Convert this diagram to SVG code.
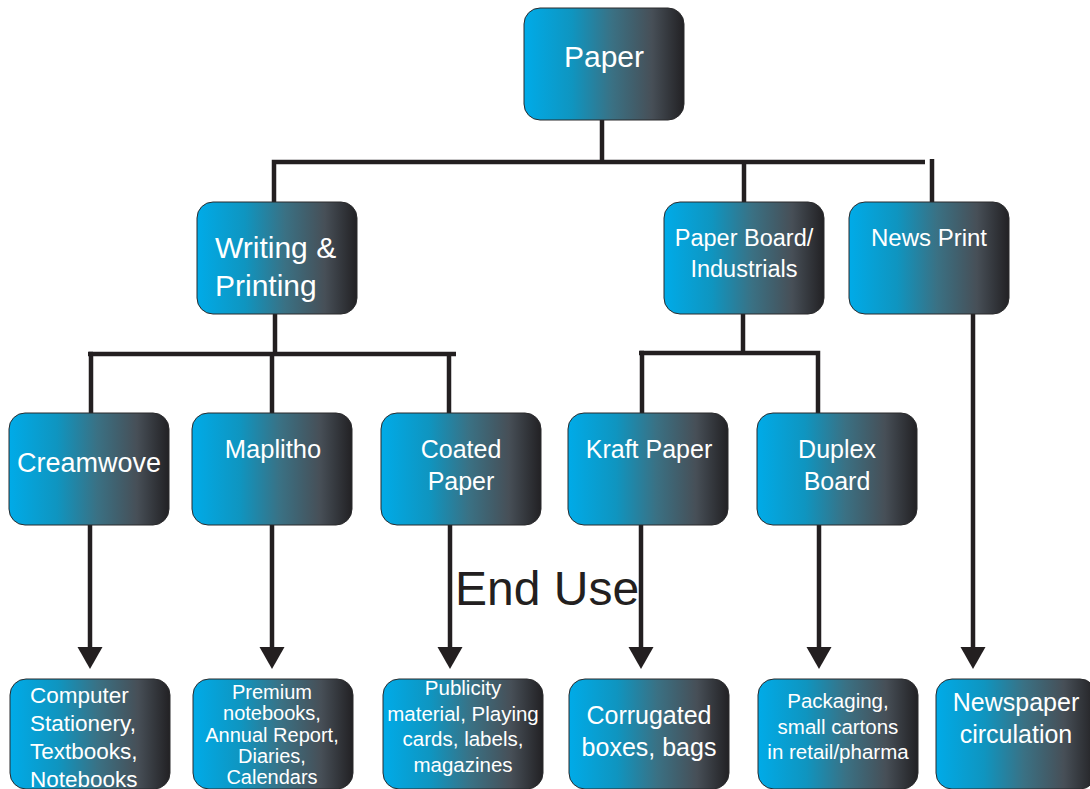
<svg xmlns="http://www.w3.org/2000/svg" width="1090" height="789" viewBox="0 0 1090 789">
<defs>
<linearGradient id="g" x1="0" y1="0" x2="1" y2="0">
<stop offset="0" stop-color="#00abe8"/>
<stop offset="0.3" stop-color="#0f95c0"/>
<stop offset="0.55" stop-color="#3a7184"/>
<stop offset="0.8" stop-color="#474f57"/>
<stop offset="1" stop-color="#222124"/>
</linearGradient>
<marker id="ah" viewBox="0 0 25 22" refX="12.5" refY="22" markerWidth="25" markerHeight="22" markerUnits="userSpaceOnUse" orient="auto-start-reverse">
<polygon points="0,0 25,0 12.5,22" fill="#231f20"/>
</marker>
</defs>
<style>
.box{fill:url(#g);stroke:#2a2a2c;stroke-width:1}
.t{font-family:"Liberation Sans",Arial,sans-serif;fill:#ffffff;text-anchor:middle}
.ln{fill:none;stroke:#231f20;stroke-width:4.5;stroke-linejoin:miter}
.ar{fill:#231f20}
</style>
<g id="connectors">
<line class="ln" x1="602" y1="120" x2="602" y2="162"/>
<polyline class="ln" points="274,202 274,162 925,162"/>
<line class="ln" x1="744" y1="162" x2="744" y2="202"/>
<line class="ln" x1="932" y1="159" x2="932" y2="202"/>
<line class="ln" x1="275" y1="314" x2="275" y2="354"/>
<polyline class="ln" points="91,413 91,354 456,354"/>
<line class="ln" x1="88" y1="354" x2="93" y2="354"/>
<line class="ln" x1="272" y1="354" x2="272" y2="413"/>
<line class="ln" x1="449" y1="354" x2="449" y2="413"/>
<line class="ln" x1="743" y1="314" x2="743" y2="353"/>
<polyline class="ln" points="642,413 642,353 818,353 818,413"/>
<line class="ln" x1="639" y1="353" x2="644" y2="353"/>
<line class="ln" x1="90" y1="525" x2="90" y2="650"/>
<polygon class="ar" points="77.5,647 102.5,647 90,669"/>
<line class="ln" x1="272" y1="525" x2="272" y2="650"/>
<polygon class="ar" points="259.5,647 284.5,647 272,669"/>
<line class="ln" x1="450" y1="525" x2="450" y2="650"/>
<polygon class="ar" points="437.5,647 462.5,647 450,669"/>
<line class="ln" x1="641" y1="525" x2="641" y2="650"/>
<polygon class="ar" points="628.5,647 653.5,647 641,669"/>
<line class="ln" x1="819" y1="525" x2="819" y2="650"/>
<polygon class="ar" points="806.5,647 831.5,647 819,669"/>
<line class="ln" x1="973" y1="314" x2="973" y2="650"/>
<polygon class="ar" points="960.5,647 985.5,647 973,669"/>
</g>
<g id="paper">
<rect class="box" x="524" y="8" width="160" height="112" rx="16"/>
<text class="t" x="604" y="67" font-size="30">Paper</text>
</g>
<g id="writing-printing">
<rect class="box" x="197" y="202" width="160" height="112" rx="16"/>
<text class="t" x="215" y="258" font-size="30" text-anchor="start" style="text-anchor:start">Writing &amp;</text>
<text class="t" x="215" y="296" font-size="30" style="text-anchor:start">Printing</text>
</g>
<g id="paper-board">
<rect class="box" x="664" y="202" width="160" height="112" rx="16"/>
<text class="t" x="744" y="246" font-size="23.5">Paper Board/</text>
<text class="t" x="744" y="277" font-size="23.5">Industrials</text>
</g>
<g id="news-print">
<rect class="box" x="849" y="202" width="160" height="112" rx="16"/>
<text class="t" x="929" y="246" font-size="24">News Print</text>
</g>
<g id="creamwove">
<rect class="box" x="9" y="413" width="160" height="112" rx="16"/>
<text class="t" x="89" y="472" font-size="27">Creamwove</text>
</g>
<g id="maplitho">
<rect class="box" x="192" y="413" width="160" height="112" rx="16"/>
<text class="t" x="273" y="458" font-size="25.5">Maplitho</text>
</g>
<g id="coated-paper">
<rect class="box" x="381" y="413" width="160" height="112" rx="16"/>
<text class="t" x="461" y="458" font-size="25">Coated</text>
<text class="t" x="461" y="490" font-size="25">Paper</text>
</g>
<g id="kraft-paper">
<rect class="box" x="568" y="413" width="160" height="112" rx="16"/>
<text class="t" x="649" y="458" font-size="25">Kraft Paper</text>
</g>
<g id="duplex-board">
<rect class="box" x="757" y="413" width="160" height="112" rx="16"/>
<text class="t" x="837" y="458" font-size="25">Duplex</text>
<text class="t" x="837" y="490" font-size="25">Board</text>
</g>
<g id="end-use-label">
<text x="455" y="605" font-family="Liberation Sans, Arial, sans-serif" font-size="48" fill="#231f20">End Use</text>
</g>
<g id="computer-stationery">
<rect class="box" x="10" y="679" width="160" height="110" rx="16"/>
<text class="t" x="30" y="703" font-size="22.5" style="text-anchor:start">Computer</text>
<text class="t" x="30" y="731" font-size="22.5" style="text-anchor:start">Stationery,</text>
<text class="t" x="30" y="759" font-size="22.5" style="text-anchor:start">Textbooks,</text>
<text class="t" x="30" y="787" font-size="22.5" style="text-anchor:start">Notebooks</text>
</g>
<g id="premium-notebooks">
<rect class="box" x="193" y="679" width="160" height="110" rx="16"/>
<text class="t" x="272" y="699" font-size="20">Premium</text>
<text class="t" x="272" y="720" font-size="20">notebooks,</text>
<text class="t" x="272" y="742" font-size="20">Annual Report,</text>
<text class="t" x="272" y="763" font-size="20">Diaries,</text>
<text class="t" x="272" y="784" font-size="20">Calendars</text>
</g>
<g id="publicity">
<rect class="box" x="383" y="679" width="160" height="110" rx="16"/>
<text class="t" x="463" y="695" font-size="20.5">Publicity</text>
<text class="t" x="463" y="721" font-size="20.5">material, Playing</text>
<text class="t" x="463" y="746" font-size="20.5">cards, labels,</text>
<text class="t" x="463" y="772" font-size="20.5">magazines</text>
</g>
<g id="corrugated">
<rect class="box" x="569" y="679" width="160" height="110" rx="16"/>
<text class="t" x="649" y="724" font-size="25">Corrugated</text>
<text class="t" x="649" y="756" font-size="25">boxes, bags</text>
</g>
<g id="packaging">
<rect class="box" x="758" y="679" width="160" height="110" rx="16"/>
<text class="t" x="838" y="708" font-size="20.5">Packaging,</text>
<text class="t" x="838" y="734" font-size="20.5">small cartons</text>
<text class="t" x="838" y="759" font-size="20.5">in retail/pharma</text>
</g>
<g id="newspaper-circulation">
<rect class="box" x="936" y="679" width="160" height="110" rx="16"/>
<text class="t" x="1016" y="711" font-size="25">Newspaper</text>
<text class="t" x="1016" y="743" font-size="25">circulation</text>
</g>
</svg>
